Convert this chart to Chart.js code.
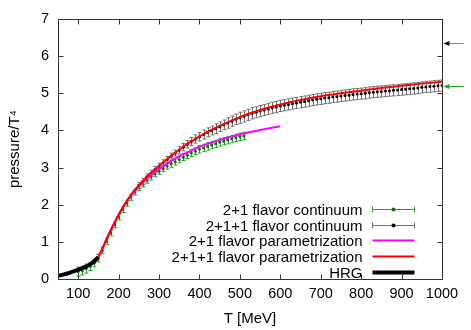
<!DOCTYPE html>
<html><head><meta charset="utf-8">
<script src="https://cdn.jsdelivr.net/npm/chart.js@4/dist/chart.umd.min.js"></script>
<style>html,body{margin:0;padding:0;background:#fff}#wrap{width:471px;height:330px}</style>
</head><body><div id="wrap"><canvas id="c" width="471" height="330"></canvas></div>
<script>
const xTicks = [100,200,300,400,500,600,700,800,900,1000];
const yTicks = [0,1,2,3,4,5,6,7];
const seriesNames = ['2+1 flavor continuum','2+1+1 flavor continuum','2+1 flavor parametrization','2+1+1 flavor parametrization','HRG'];

const hrgT = [50,60,70,80,90,100,110,120,130,140,150];
const hrgP = [0.09,0.11,0.14,0.17,0.21,0.25,0.29,0.34,0.40,0.48,0.59];

const param2111T = [150,160,170,180,190,200,215,230,250,275,300,325,350,375,400,450,500,550,600,650,700,750,800,850,900,950,1000];
const param2111P = [0.60,0.82,1.07,1.30,1.52,1.73,2.01,2.26,2.52,2.80,3.04,3.27,3.48,3.67,3.84,4.12,4.36,4.55,4.70,4.82,4.92,5.00,5.07,5.14,5.20,5.26,5.31];

const param21T = [150,160,170,180,190,200,215,230,250,275,300,325,350,375,400,450,500,550,600];
const param21P = [0.60,0.82,1.07,1.30,1.52,1.73,2.00,2.24,2.49,2.75,2.96,3.14,3.30,3.43,3.56,3.74,3.89,4.01,4.11];

const cont21T = [100,110,120,130,140,150,160,170,180,190,200,210,220,230,240,250,260,270,280,290,300,310,320,330,340,350,360,370,380,390,400,410,420,430,440,450,460,470,480,490,500,510];
const cont21P = [0.20,0.23,0.28,0.34,0.43,0.56,0.77,1.01,1.24,1.46,1.67,1.87,2.04,2.20,2.34,2.46,2.56,2.66,2.75,2.83,2.90,2.97,3.04,3.10,3.16,3.22,3.28,3.33,3.39,3.44,3.49,3.53,3.57,3.61,3.64,3.68,3.71,3.74,3.77,3.80,3.83,3.85];
const cont21Err = [0.12,0.12,0.12,0.11,0.10,0.10,0.09,0.09,0.08,0.08,0.08,0.08,0.08,0.08,0.08,0.08,0.08,0.08,0.08,0.08,0.08,0.08,0.08,0.09,0.09,0.09,0.09,0.09,0.09,0.09,0.10,0.10,0.10,0.10,0.10,0.10,0.10,0.10,0.10,0.10,0.10,0.10];

const cont2111T = [250,260,270,280,290,300,310,320,330,340,350,360,370,380,390,400,410,420,430,440,450,460,470,480,490,500,510,520,530,540,550,560,570,580,590,600,610,620,630,640,650,660,670,680,690,700,710,720,730,740,750,760,770,780,790,800,810,820,830,840,850,860,870,880,890,900,910,920,930,940,950,960,970,980,990,1000];
const cont2111P = [2.52,2.63,2.75,2.85,2.95,3.04,3.13,3.22,3.31,3.39,3.47,3.55,3.63,3.70,3.77,3.83,3.89,3.95,4.00,4.05,4.10,4.15,4.20,4.25,4.30,4.34,4.38,4.42,4.46,4.49,4.52,4.55,4.58,4.61,4.63,4.66,4.68,4.70,4.72,4.74,4.76,4.78,4.80,4.82,4.84,4.85,4.87,4.88,4.90,4.91,4.93,4.94,4.95,4.97,4.98,4.99,5.00,5.02,5.03,5.04,5.05,5.06,5.07,5.08,5.09,5.10,5.11,5.12,5.13,5.14,5.16,5.17,5.18,5.19,5.20,5.21];
const cont2111Err = [0.08,0.08,0.08,0.08,0.08,0.08,0.08,0.08,0.08,0.08,0.10,0.10,0.10,0.11,0.11,0.11,0.12,0.12,0.12,0.13,0.13,0.13,0.14,0.14,0.14,0.15,0.15,0.15,0.15,0.15,0.15,0.15,0.15,0.15,0.15,0.15,0.15,0.15,0.15,0.15,0.15,0.15,0.15,0.15,0.15,0.15,0.15,0.15,0.15,0.15,0.15,0.15,0.15,0.15,0.15,0.15,0.15,0.15,0.15,0.15,0.15,0.15,0.15,0.15,0.15,0.15,0.15,0.15,0.15,0.15,0.15,0.15,0.15,0.15,0.15,0.15];

// Stefan-Boltzmann limits marked by arrows: 2+1 (green), 2+1+1 (black)
const sbLimits = [5.209, 6.36];

const FONT = "'Liberation Sans', Arial, Helvetica, sans-serif";
const pts = (xs, ys) => xs.map((x, i) => ({x: x, y: ys[i]}));

const errorBars = {
  id: 'errorBars',
  beforeDatasetDraw(chart, args) {
    const ds = chart.data.datasets[args.index];
    if (!ds.errors) return;
    const ctx = chart.ctx, xs = chart.scales.x, ys = chart.scales.y, a = chart.chartArea;
    ctx.save();
    ctx.beginPath(); ctx.rect(a.left, a.top, a.right - a.left, a.bottom - a.top); ctx.clip();
    ctx.strokeStyle = ds.errorColor; ctx.lineWidth = 1;
    ds.data.forEach((d, i) => {
      const px = Math.round(xs.getPixelForValue(d.x)) + 0.5;
      const y1 = ys.getPixelForValue(d.y - ds.errors[i]);
      const y2 = ys.getPixelForValue(d.y + ds.errors[i]);
      ctx.beginPath();
      ctx.moveTo(px, y1); ctx.lineTo(px, y2);
      ctx.moveTo(px - 2, y1); ctx.lineTo(px + 2, y1);
      ctx.moveTo(px - 2, y2); ctx.lineTo(px + 2, y2);
      ctx.stroke();
    });
    ctx.restore();
  }
};

const frame = {
  id: 'frame',
  afterDraw(chart) {
    const ctx = chart.ctx, a = chart.chartArea, xs = chart.scales.x, ys = chart.scales.y;
    ctx.save();
    ctx.strokeStyle = '#333'; ctx.lineWidth = 1;
    const L = Math.round(a.left) + 0.5, R = Math.round(a.right) + 0.5, T = Math.round(a.top) + 0.5, B = Math.round(a.bottom) + 0.5;
    ctx.strokeRect(L, T, R - L, B - T);
    ctx.beginPath();
    xTicks.forEach(v => {
      const p = Math.round(xs.getPixelForValue(v)) + 0.5;
      ctx.moveTo(p, B); ctx.lineTo(p, B - 5);
      ctx.moveTo(p, T); ctx.lineTo(p, T + 5);
    });
    yTicks.forEach(v => {
      const p = Math.round(ys.getPixelForValue(v)) + 0.5;
      ctx.moveTo(L, p); ctx.lineTo(L + 5, p);
      ctx.moveTo(R, p); ctx.lineTo(R - 5, p);
    });
    ctx.stroke();

    // SB arrows on the right
    const arrowCols = [['#22a022', '#22a022'], ['#888', '#000']];
    sbLimits.forEach((v, i) => {
      const y = Math.round(ys.getPixelForValue(v)) + 0.5;
      ctx.strokeStyle = arrowCols[i][0];
      ctx.beginPath(); ctx.moveTo(R + 4, y); ctx.lineTo(R + 21, y); ctx.stroke();
      ctx.fillStyle = arrowCols[i][1];
      ctx.beginPath(); ctx.moveTo(R + 1, y); ctx.lineTo(R + 7, y - 2.5); ctx.lineTo(R + 7, y + 2.5); ctx.closePath(); ctx.fill();
    });

    // legend
    ctx.font = '15px ' + FONT;
    ctx.fillStyle = '#000'; ctx.textAlign = 'right'; ctx.textBaseline = 'middle';
    const tx = R - 80, s1 = R - 70, s2 = R - 28, mid = (s1 + s2) / 2;
    const legendDs = [4, 3, 2, 1, 0];
    seriesNames.forEach((name, i) => {
      const y = Math.round(a.bottom - 70 + i * 15.7) + 0.5;
      ctx.fillStyle = '#000';
      ctx.fillText(name, tx, y + 1);
      const ds = chart.data.datasets[legendDs[i]];
      if (ds.errors) {
        ctx.strokeStyle = ds.errorColor; ctx.lineWidth = 1;
        ctx.beginPath(); ctx.moveTo(s1, y); ctx.lineTo(s2, y);
        ctx.moveTo(s1, y - 3); ctx.lineTo(s1, y + 3); ctx.moveTo(s2, y - 3); ctx.lineTo(s2, y + 3); ctx.stroke();
        ctx.fillStyle = ds.pointBackgroundColor;
        ctx.beginPath(); ctx.arc(mid, y, 2, 0, Math.PI * 2); ctx.fill();
      } else {
        ctx.strokeStyle = ds.borderColor; ctx.lineWidth = ds.borderWidth;
        ctx.beginPath(); ctx.moveTo(s1, y); ctx.lineTo(s2, y); ctx.stroke();
      }
    });
    ctx.restore();
  }
};

new Chart(document.getElementById('c'), {
  type: 'scatter',
  data: {
    datasets: [
      {label: seriesNames[4], data: pts(hrgT, hrgP), showLine: true, borderColor: '#000', borderWidth: 4, pointRadius: 0, order: 0, cubicInterpolationMode: 'monotone'},
      {label: seriesNames[3], data: pts(param2111T, param2111P), showLine: true, borderColor: '#ff0000', borderWidth: 2, pointRadius: 0, order: 1, cubicInterpolationMode: 'monotone'},
      {label: seriesNames[2], data: pts(param21T, param21P), showLine: true, borderColor: '#ff00ff', borderWidth: 2, pointRadius: 0, order: 2, cubicInterpolationMode: 'monotone'},
      {label: seriesNames[1], data: pts(cont2111T, cont2111P), errors: cont2111Err, errorColor: '#707070', showLine: false, pointRadius: 1.5, pointBorderWidth: 0, pointBackgroundColor: '#000', pointBorderColor: '#000', order: 3},
      {label: seriesNames[0], data: pts(cont21T, cont21P), errors: cont21Err, errorColor: '#22a022', showLine: false, pointRadius: 1.5, pointBorderWidth: 0, pointBackgroundColor: '#0a700a', pointBorderColor: '#0a700a', order: 4}
    ]
  },
  options: {
    responsive: false, animation: false, devicePixelRatio: 1,
    layout: {padding: {left: 0, top: 19, right: 29, bottom: 0}},
    plugins: {legend: {display: false}, tooltip: {enabled: false}},
    scales: {
      x: {
        type: 'linear', min: 50, max: 1000,
        afterBuildTicks: s => { s.ticks = xTicks.map(v => ({value: v})); },
        afterFit: s => { s.height = 51; },
        grid: {display: false, drawTicks: false}, border: {display: false},
        ticks: {padding: 6, color: '#000', font: {family: FONT, size: 14.5}, maxRotation: 0, autoSkip: false, callback: v => String(v)},
        title: {display: true, text: 'T [MeV]', color: '#000', font: {family: FONT, size: 15}, padding: {top: 0, bottom: 2}}
      },
      y: {
        type: 'linear', min: 0, max: 7,
        afterBuildTicks: s => { s.ticks = yTicks.map(v => ({value: v})); },
        afterFit: s => { s.width = 58; },
        grid: {display: false, drawTicks: false}, border: {display: false},
        ticks: {padding: 9, color: '#000', font: {family: FONT, size: 14.5}, callback: v => String(v)},
        title: {display: true, text: 'pressure/T⁴', color: '#000', font: {family: FONT, size: 15}, padding: {top: 6, bottom: 0}}
      }
    }
  },
  plugins: [errorBars, frame]
});
</script>
</body></html>
